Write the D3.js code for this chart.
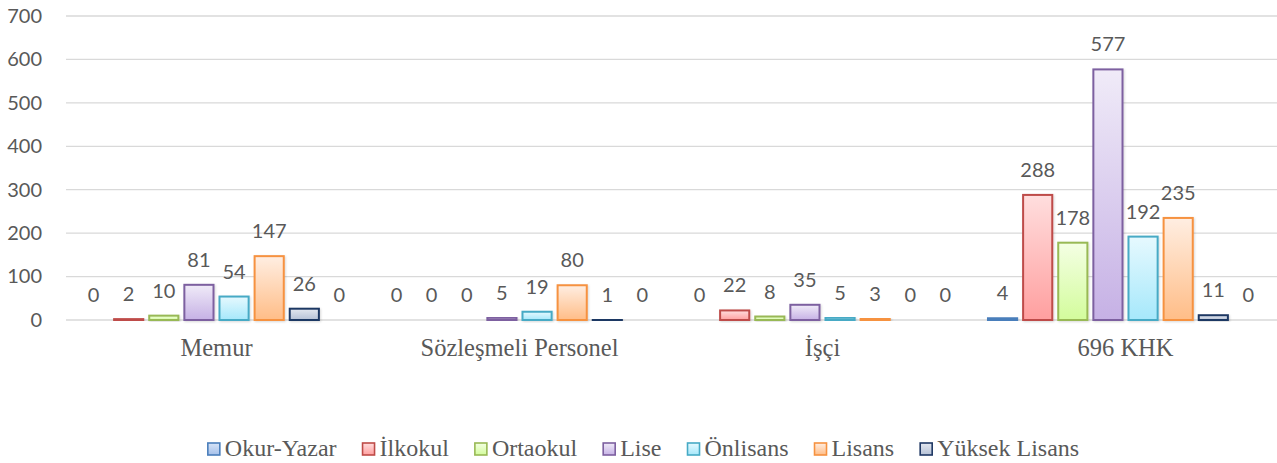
<!DOCTYPE html>
<html><head><meta charset="utf-8">
<script src="https://cdn.jsdelivr.net/npm/d3@7"></script>
<style>body{margin:0;background:#fff}</style>
</head><body><svg id="c" width="1277" height="463"></svg>
<script>
const categories = ["Memur", "Sözleşmeli Personel", "İşçi", "696 KHK"];
const seriesNames = ["Okur-Yazar", "İlkokul", "Ortaokul", "Lise", "Önlisans", "Lisans", "Yüksek Lisans", "Doktora"];
const legendNames = ["Okur-Yazar", "İlkokul", "Ortaokul", "Lise", "Önlisans", "Lisans", "Yüksek Lisans"];
const okurYazar = [0, 0, 0, 4];
const ilkokul = [2, 0, 22, 288];
const ortaokul = [10, 0, 8, 178];
const lise = [81, 5, 35, 577];
const onlisans = [54, 19, 5, 192];
const lisans = [147, 80, 3, 235];
const yuksekLisans = [26, 1, 0, 11];
const doktora = [0, 0, 0, 0];
const yTicks = [0, 100, 200, 300, 400, 500, 600, 700];

const values = [okurYazar, ilkokul, ortaokul, lise, onlisans, lisans, yuksekLisans, doktora];
const strokes = ["#4a7ebb", "#be4b48", "#98b954", "#7d60a0", "#46aac5", "#f69240", "#1f3864", "#7f7f7f"];
const topFill = ["#d7e4f7", "#ffdede", "#f4ffe4", "#f0ebf8", "#e6f9fe", "#ffeee2", "#e4e8f0", "#eeeeee"];
const botFill = ["#a5c0ea", "#ff9f9f", "#d3fc9c", "#c6b1e5", "#a6e8fb", "#ffbd87", "#b5c1d6", "#cccccc"];

const svg = d3.select("#c");
const defs = svg.append("defs");
values.forEach((v, i) => {
  const g = defs.append("linearGradient").attr("id", "g" + i).attr("x1", 0).attr("y1", 0).attr("x2", 0).attr("y2", 1);
  g.append("stop").attr("offset", "0%").attr("stop-color", topFill[i]);
  g.append("stop").attr("offset", "100%").attr("stop-color", botFill[i]);
});
const f = defs.append("filter").attr("id", "sh").attr("x", "-20%").attr("y", "-20%").attr("width", "150%").attr("height", "150%");
f.append("feDropShadow").attr("dx", 1).attr("dy", 1).attr("stdDeviation", 1.2).attr("flood-color", "#000").attr("flood-opacity", 0.15);

const x0 = d3.scaleBand().domain(categories).range([65, 1277]).paddingInner(0.0726).paddingOuter(0.0363);
const x1 = d3.scaleBand().domain(seriesNames).range([0, x0.bandwidth()]).paddingInner(0.17).paddingOuter(0.085);
const y = d3.scaleLinear().domain([0, 700]).range([320, 16]);

const numFont = "Lato, 'Open Sans', sans-serif";
const serif = "'Liberation Serif', 'Times New Roman', serif";
const grey = "#595959";

// grid
svg.append("g").selectAll("line").data(yTicks).join("line")
  .attr("x1", 66).attr("x2", 1277)
  .attr("y1", d => y(d)).attr("y2", d => y(d))
  .attr("stroke", "#d9d9d9").attr("stroke-width", 1.3);

// y axis labels
const yAxis = d3.axisLeft(y).tickValues(yTicks).tickSize(0).tickPadding(0);
const ya = svg.append("g").attr("transform", "translate(42,0)").call(yAxis);
ya.select(".domain").remove();
ya.selectAll("text").attr("font-family", numFont).attr("font-size", 20).attr("fill", grey);

// bars
const groups = svg.append("g").selectAll("g").data(categories).join("g")
  .attr("transform", d => `translate(${x0(d)},0)`);
seriesNames.forEach((s, si) => {
  groups.append("rect")
    .attr("x", x1(s))
    .attr("width", x1.bandwidth())
    .attr("y", (d, ci) => y(values[si][ci]))
    .attr("height", (d, ci) => Math.max(0, y(0) - y(values[si][ci])))
    .attr("fill", `url(#g${si})`)
    .attr("stroke", strokes[si])
    .attr("stroke-width", (d, ci) => values[si][ci] > 0 ? 2 : 0)
    .attr("filter", "url(#sh)");
  groups.append("text")
    .attr("x", x1(s) + x1.bandwidth() / 2)
    .attr("y", (d, ci) => y(values[si][ci]) - 18)
    .attr("text-anchor", "middle")
    .attr("font-family", numFont).attr("font-size", 20).attr("fill", grey)
    .text((d, ci) => values[si][ci]);
});

// x axis labels
const xAxis = d3.axisBottom(x0).tickSize(0).tickPadding(0);
const xa = svg.append("g").attr("transform", "translate(0,356)").call(xAxis);
xa.select(".domain").remove();
xa.selectAll("text").attr("font-family", serif).attr("font-size", 24.5).attr("fill", grey).attr("dy", 0).attr("y", 0);

// legend
const leg = svg.append("g");
let lx = 0;
legendNames.forEach((n, i) => {
  const g = leg.append("g").attr("transform", `translate(${lx},0)`);
  g.append("rect").attr("x", 0).attr("y", 443).attr("width", 12).attr("height", 12)
    .attr("fill", `url(#g${i})`).attr("stroke", strokes[i]).attr("stroke-width", 1.6);
  const t = g.append("text").attr("x", 17).attr("y", 456)
    .attr("font-family", serif).attr("font-size", 24).attr("fill", grey).text(n);
  const w = t.node().getComputedTextLength();
  lx += 17 + w + 26;
});
const total = lx - 26;
leg.attr("transform", `translate(${643.5 - total / 2},0)`);
</script></body></html>
